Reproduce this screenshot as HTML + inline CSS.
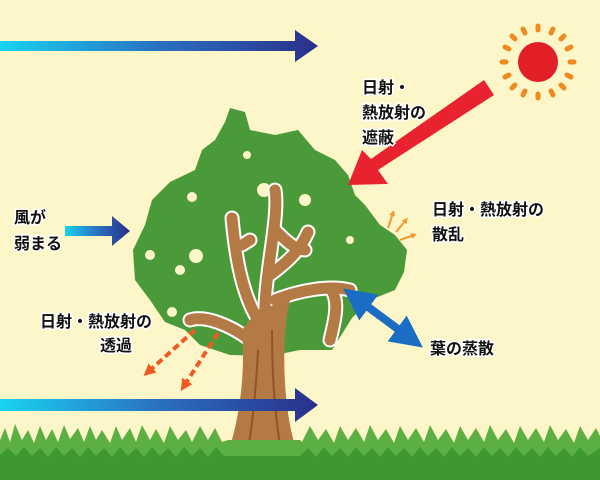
<!DOCTYPE html>
<html><head><meta charset="utf-8"><style>
body{margin:0;width:600px;height:480px;overflow:hidden;background:#fdf6c9}
svg{display:block}
text{font-family:"Liberation Sans","Noto Sans CJK JP",sans-serif;font-size:16px;font-weight:bold;fill:#111;stroke:#fff;stroke-width:3;paint-order:stroke}
</style></head><body>
<svg width="600" height="480" viewBox="0 0 600 480">
<defs>
<linearGradient id="g" x1="0" x2="1"><stop offset="0" stop-color="#19d3f0"/><stop offset=".5" stop-color="#2a70c0"/><stop offset="1" stop-color="#2a2f8a"/></linearGradient>
<marker id="bh" viewBox="0 0 10 10" refX="5" refY="5" markerWidth="4" markerHeight="4" orient="auto-start-reverse"><path d="M0,0L10,5L0,10z" fill="#1a6cc4"/></marker>
<marker id="oh" viewBox="0 0 10 10" refX="5" refY="5" markerWidth="3" markerHeight="3" orient="auto"><path d="M0,0L10,5L0,10z" fill="#ef5a24"/></marker>
<marker id="sh" viewBox="0 0 10 10" refX="5" refY="5" markerWidth="3" markerHeight="3" orient="auto"><path d="M0,0L10,5L0,10z" fill="#f29a2e"/></marker>
</defs>
<!-- canopy -->
<path d="M230,108L245,112L250,130L275,135L298,130L315,150L335,160L348,175L355,195L365,205L380,225L395,235L407,250L404,272L395,290L370,300L352,318L332,350L300,350L270,356L230,355L200,345L185,330L165,322L150,300L135,280L133,250L145,225L152,200L170,182L195,170L202,150L215,140L225,122Z" fill="#4a9a3a"/>
<g fill="#fdf6c9"><circle cx="264" cy="190" r="7"/><circle cx="192" cy="197" r="5"/><circle cx="305" cy="200" r="6"/><circle cx="196" cy="256" r="7"/><circle cx="180" cy="270" r="5"/><circle cx="150" cy="255" r="5"/><circle cx="247" cy="155" r="4"/><circle cx="350" cy="240" r="4"/><circle cx="172" cy="312" r="5"/></g>
<!-- branches -->
<g fill="none" stroke-linecap="round">
<g stroke="#fff" stroke-width="15">
<path d="M265,330C262,280 280,220 275,190"/><path d="M258,320C240,290 235,250 232,218"/><path d="M242,245L250,240"/><path d="M270,275C290,260 300,250 308,232"/><path d="M275,230C285,240 295,250 305,250"/><path d="M275,300C300,290 330,285 350,290"/><path d="M330,288C340,300 335,320 330,340"/><path d="M250,340C230,325 205,315 190,320"/>
</g>
<g stroke="#b47a45" stroke-width="11">
<path d="M265,330C262,280 280,220 275,190"/><path d="M258,320C240,290 235,250 232,218"/><path d="M242,245L250,240"/><path d="M270,275C290,260 300,250 308,232"/><path d="M275,230C285,240 295,250 305,250"/><path d="M275,300C300,290 330,285 350,290"/><path d="M330,288C340,300 335,320 330,340"/><path d="M250,340C230,325 205,315 190,320"/>
</g></g>
<path d="M222,470C238,430 246,380 242,330L258,310L290,300C280,340 282,430 305,470Z" fill="#b47a45"/>
<path d="M258,350C256,390 253,420 248,450M272,330C272,380 275,420 282,455" stroke="#8f5528" stroke-width="2" fill="none"/>
<!-- grass -->
<path d="M0,480V440L5,428L10,442L15,424L22,440L28,430L34,443L40,426L46,440L52,429L58,442L64,425L70,439L78,428L84,442L90,426L96,440L102,430L110,443L116,426L122,440L130,428L136,442L142,425L150,440L156,429L164,443L170,426L178,440L186,430L192,442L200,426L208,440L215,428L222,442L228,440L300,440L302,442L310,426L318,440L326,429L334,443L340,426L348,440L356,428L364,442L370,425L378,440L386,429L394,443L400,426L408,440L416,428L424,442L430,425L438,440L446,429L454,443L460,426L468,440L476,428L484,442L490,425L498,440L506,429L514,443L520,426L528,440L536,428L544,442L550,425L558,440L566,429L574,443L580,426L588,440L596,428L600,436V480Z" fill="#5cb043"/>
<path d="M0,480V455L8,448L16,456L24,447L32,456L40,448L48,457L56,447L64,456L72,448L80,457L88,447L96,456L104,448L112,457L120,447L128,456L136,448L144,457L152,447L160,456L168,448L176,457L184,447L192,456L200,448L208,457L216,447L224,456L300,456L308,448L316,457L324,447L332,456L340,448L348,457L356,447L364,456L372,448L380,457L388,447L396,456L404,448L412,457L420,447L428,456L436,448L444,457L452,447L460,456L468,448L476,457L484,447L492,456L500,448L508,457L516,447L524,456L532,448L540,457L548,447L556,456L564,448L572,457L580,447L588,456L600,448V480Z" fill="#3c982f"/>
<!-- arrows wind -->
<path d="M0,41H295V30L318,46L295,62V51H0Z" fill="url(#g)"/>
<path d="M0,399H295V388L318,405L295,422V411H0Z" fill="url(#g)"/>
<path d="M65,226H112V216L130,231L112,246V236H65Z" fill="url(#g)"/>
<!-- red arrow -->
<path d="M484,80L494,95L378,170L388,184L348,185L362,150L371,159Z" fill="#e8222e"/>
<!-- sun -->
<circle cx="538" cy="62" r="20" fill="#e21f26"/>
<g stroke="#f08a20" stroke-width="5" stroke-linecap="round">
<line x1="538" y1="30" x2="538" y2="26"/><line x1="538" y1="94" x2="538" y2="98"/><line x1="506" y1="62" x2="502" y2="62"/><line x1="570" y1="62" x2="574" y2="62"/>
<line x1="515" y1="39" x2="512" y2="36"/><line x1="561" y1="39" x2="564" y2="36"/><line x1="515" y1="85" x2="512" y2="88"/><line x1="561" y1="85" x2="564" y2="88"/>
<line x1="525" y1="33" x2="523" y2="29"/><line x1="551" y1="33" x2="553" y2="29"/><line x1="525" y1="91" x2="523" y2="95"/><line x1="551" y1="91" x2="553" y2="95"/>
<line x1="509" y1="49" x2="505" y2="47"/><line x1="567" y1="49" x2="571" y2="47"/><line x1="509" y1="75" x2="505" y2="77"/><line x1="567" y1="75" x2="571" y2="77"/>
</g>
<!-- scatter -->
<g stroke="#f29a2e" stroke-width="2" marker-end="url(#sh)"><line x1="388" y1="228" x2="393" y2="213"/><line x1="396" y1="232" x2="406" y2="220"/><line x1="400" y1="240" x2="414" y2="235"/></g>
<!-- transmission -->
<g stroke="#ef5a24" stroke-width="4" stroke-dasharray="7,4" marker-end="url(#oh)" fill="none"><line x1="195" y1="330" x2="148" y2="372"/><line x1="218" y1="333" x2="184" y2="386"/></g>
<!-- blue double -->
<line x1="356" y1="298" x2="410" y2="338" stroke="#1a6cc4" stroke-width="8" marker-start="url(#bh)" marker-end="url(#bh)"/>
<!-- labels -->
<text x="362" y="93">日射・</text>
<text x="362" y="118">熱放射の</text>
<text x="362" y="143">遮蔽</text>
<text x="432" y="215">日射・熱放射の</text>
<text x="432" y="240">散乱</text>
<text x="14" y="223">風が</text>
<text x="14" y="249">弱まる</text>
<text x="40" y="327">日射・熱放射の</text>
<text x="100" y="351">透過</text>
<text x="430" y="354">葉の蒸散</text>
</svg>
</body></html>
